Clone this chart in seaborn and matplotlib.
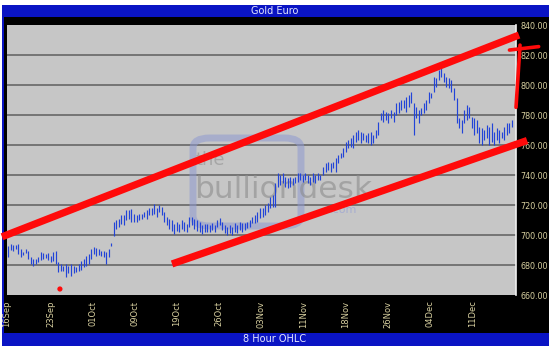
import numpy as np
import pandas as pd
import matplotlib
matplotlib.use("Agg")
import matplotlib.pyplot as plt
import seaborn as sns
from matplotlib.patches import Rectangle, FancyBboxPatch

# ---- data (8 hour bars, Gold in Euro) ----
highs = [692.9, 694.0, 693.6, 693.3, 694.0, 690.7, 688.9, 690.7, 689.6, 685.1,
         684.0, 684.0, 685.1, 688.4, 688.0, 687.3, 688.0, 686.2, 688.4, 689.1,
         681.8, 680.7, 679.6, 680.7, 679.6, 680.7, 679.6, 678.4, 680.7, 682.9,
         684.0, 686.2, 687.3, 690.7, 691.8, 691.3, 690.7, 689.6, 689.6, 688.4,
         690.7, 695.0, 708.6, 709.8, 710.9, 713.2, 713.2, 716.6, 716.6, 717.3,
         714.3, 713.2, 714.3, 714.3, 715.5, 716.6, 717.7, 717.7, 720.5, 717.7,
         720.0, 718.9, 715.5, 712.0, 710.9, 709.8, 707.5, 708.6, 707.5, 709.8,
         708.6, 707.5, 712.0, 712.0, 710.9, 709.8, 708.6, 706.4, 707.5, 707.5,
         706.4, 707.8, 706.7, 710.0, 711.1, 708.9, 706.7, 705.6, 706.7, 705.6,
         707.8, 706.7, 708.9, 707.8, 707.8, 708.9, 710.0, 712.2, 713.3, 715.6,
         717.8, 717.8, 720.0, 721.1, 725.6, 726.7, 734.4, 741.1, 740.0, 741.1,
         738.9, 737.8, 738.9, 737.8, 738.9, 741.1, 741.1, 740.0, 741.1, 740.0,
         738.9, 741.1, 740.0, 741.1, 740.0, 745.6, 747.8, 748.9, 747.8, 748.9,
         751.1, 753.3, 754.4, 757.8, 762.2, 763.3, 764.4, 766.7, 768.9, 770.0,
         768.9, 767.8, 766.7, 767.8, 768.9, 766.7, 770.0, 775.6, 781.1, 783.3,
         782.2, 781.1, 783.3, 782.2, 787.8, 788.9, 790.0, 790.0, 792.2, 793.3,
         795.6, 787.8, 785.6, 783.3, 784.4, 787.8, 790.0, 795.6, 794.4, 805.6,
         804.4, 810.0, 812.2, 807.8, 805.6, 804.4, 803.3, 797.8, 791.1, 777.8,
         776.7, 783.3, 786.7, 785.6, 778.9, 777.8, 776.7, 772.2, 771.1, 770.0,
         773.3, 772.2, 774.4, 768.9, 771.1, 770.0, 768.9, 772.2, 774.4, 774.4,
         776.7]
lows = [685.1, 690.2, 689.6, 690.7, 687.3, 685.1, 686.7, 688.0, 684.0, 680.7,
        679.1, 680.7, 681.8, 683.6, 684.0, 684.4, 683.6, 681.8, 682.9, 680.7,
        675.1, 676.2, 676.2, 671.8, 674.7, 672.9, 674.7, 675.1, 676.2, 676.9,
        678.4, 679.6, 680.7, 684.0, 687.3, 686.2, 686.7, 686.2, 685.1, 680.7,
        685.1, 692.7, 699.5, 704.1, 705.2, 707.5, 706.4, 709.8, 710.9, 708.6,
        708.6, 708.6, 709.8, 710.9, 712.0, 710.9, 713.2, 713.2, 714.3, 712.0,
        715.5, 713.2, 708.6, 706.4, 704.1, 703.0, 700.7, 703.0, 701.8, 704.1,
        703.0, 701.8, 705.2, 706.4, 704.1, 703.0, 701.8, 700.7, 701.8, 701.8,
        701.8, 703.3, 702.2, 705.6, 706.7, 703.3, 701.1, 700.0, 701.1, 700.0,
        702.2, 701.1, 703.3, 702.2, 703.3, 704.4, 705.6, 707.8, 707.8, 708.9,
        711.1, 712.2, 713.3, 715.6, 717.8, 718.9, 718.9, 732.2, 733.3, 734.4,
        732.2, 731.1, 732.2, 733.3, 734.4, 735.6, 736.7, 735.6, 736.7, 734.4,
        733.3, 735.6, 734.4, 736.7, 736.7, 740.0, 742.2, 743.3, 742.2, 744.4,
        742.2, 747.8, 751.1, 752.2, 755.6, 757.8, 758.9, 757.8, 762.2, 763.3,
        761.1, 763.3, 762.2, 761.1, 760.0, 761.1, 764.4, 766.7, 776.7, 775.6,
        776.7, 774.4, 777.8, 775.6, 780.0, 781.1, 783.3, 784.4, 782.2, 785.6,
        787.8, 766.7, 777.8, 774.4, 780.0, 781.1, 783.3, 787.8, 791.1, 795.6,
        798.9, 803.3, 805.6, 802.2, 798.9, 797.8, 795.6, 790.0, 774.4, 771.1,
        767.8, 774.4, 776.7, 777.8, 771.1, 766.7, 767.8, 761.1, 760.0, 763.3,
        764.4, 760.0, 762.2, 760.0, 763.3, 761.1, 764.4, 763.3, 766.7, 767.8,
        772.2]

tick_labels = ["16Sep", "23Sep", "01Oct", "09Oct", "19Oct", "26Oct",
               "03Nov", "11Nov", "18Nov", "26Nov", "04Dec", "11Dec"]
tick_bars = [-0.4, 17.1, 33.7, 50.4, 67.1, 83.7, 100.4, 117.5, 134.1, 150.8, 167.5, 184.5]
y_ticks = [660, 680, 700, 720, 740, 760, 780, 800, 820, 840]
grid_levels = [680, 700, 720, 740, 760, 780, 800, 820]

# hand-drawn red channel annotations (bar index, price)
upper_trend_x = [-2.4, 202.8]
upper_trend_y = [698.8, 833.3]
lower_trend_x = [65.1, 206.0]
lower_trend_y = [680.7, 763.0]
arrow_stem_x = [201.6, 203.2]
arrow_stem_y = [785.1, 826.6]
arrow_bar_x = [199.0, 210.6]
arrow_bar_y = [823.3, 825.6]
dot_x = [20.6]
dot_y = [664.0]

title = "Gold Euro"
footer = "8 Hour OHLC"

# ---- figure ----
sns.set_style("dark")
W, H = 551, 348
fig = plt.figure(figsize=(W / 100, H / 100), dpi=100)
fig.patch.set_facecolor("white")

def fx(px):
    return px / W

def fy(py):
    return 1 - py / H

BLUE = "#0a14c4"
def add_rect(x0, y_top, w, h, color):
    fig.patches.append(Rectangle((fx(x0), fy(y_top + h)), fx(w), h / H,
                                 transform=fig.transFigure, facecolor=color,
                                 edgecolor="none", zorder=-2))

add_rect(2, 17, 547, 316, "black")
add_rect(2, 5, 547, 12, BLUE)
add_rect(2, 333, 547, 13, BLUE)
add_rect(2, 17, 2, 316, BLUE)

ax = fig.add_axes([fx(7), fy(295), fx(509), 270 / H])
ax.set_zorder(1)
ax.set_facecolor("#c6c6c6")
ax.set_xlim(-0.4, 201.6)
ax.set_ylim(660, 840)

for g in grid_levels:
    ax.axhline(g, color="#6e6e6e", lw=1.3, zorder=1)

# watermark
wm = FancyBboxPatch((fx(193), fy(226)), fx(108), 88 / H,
                    boxstyle="round,pad=0,rounding_size=0.03", transform=fig.transFigure,
                    facecolor="none", edgecolor="#8e9ad0", lw=5, alpha=0.55, zorder=2)
ax.add_artist(wm)
ax.text(fx(196), fy(160), "the", color="#9c9c9c", fontsize=13, alpha=0.75, va="center",
        family="DejaVu Sans", zorder=2, transform=fig.transFigure)
ax.text(fx(194), fy(189), "bulliondesk", color="#8c8c8c", fontsize=22.5, alpha=0.6,
        va="center", family="DejaVu Sans", zorder=2, transform=fig.transFigure)
ax.text(fx(330), fy(210), ".com", color="#a0a8d2", fontsize=8, alpha=0.85, va="center",
        family="DejaVu Sans", zorder=2, transform=fig.transFigure)

df = pd.DataFrame({"bar": np.arange(len(highs)), "high": highs, "low": lows})
ax.vlines(df["bar"], df["low"], df["high"], color="#2244d8", lw=0.85, zorder=3)

ax.set_xticks(tick_bars)
ax.set_xticklabels(tick_labels, rotation=90, color="#d8d0a0", fontsize=6)
ax.tick_params(axis="x", length=0, pad=4)
ax.set_yticks(y_ticks)
ax.set_yticklabels([f"{v:.2f}" for v in y_ticks], color="#d8d0a0", fontsize=5.8)
ax.yaxis.tick_right()
ax.tick_params(axis="y", length=0, pad=3)
ax.grid(False)
for s in ["top", "left", "bottom"]:
    ax.spines[s].set_visible(False)
ax.spines["right"].set_color("#f0f0f0")
ax.spines["right"].set_linewidth(1.2)

# red annotations
RED = "#ff0a0a"
ax.plot(upper_trend_x, upper_trend_y, color=RED, lw=5.2, solid_capstyle="butt",
        clip_on=False, zorder=6)
ax.plot(lower_trend_x, lower_trend_y, color=RED, lw=5.2, solid_capstyle="butt",
        clip_on=False, zorder=6)
ax.plot(arrow_stem_x, arrow_stem_y, color=RED, lw=2.6, clip_on=False, zorder=6)
ax.plot(arrow_bar_x, arrow_bar_y, color=RED, lw=2.6, clip_on=False, zorder=6)
sns.scatterplot(x=dot_x, y=dot_y, color=RED, s=14, edgecolor="none", ax=ax,
                clip_on=False, zorder=6, legend=False)

fig.text(fx(275), fy(11), title, color="#e6e8ff", fontsize=7, ha="center", va="center",
         family="DejaVu Sans", zorder=5)
fig.text(fx(275), fy(339.5), footer, color="#e6e8ff", fontsize=7, ha="center", va="center",
         family="DejaVu Sans", zorder=5)

fig.savefig("out.png", dpi=100, facecolor="white")
